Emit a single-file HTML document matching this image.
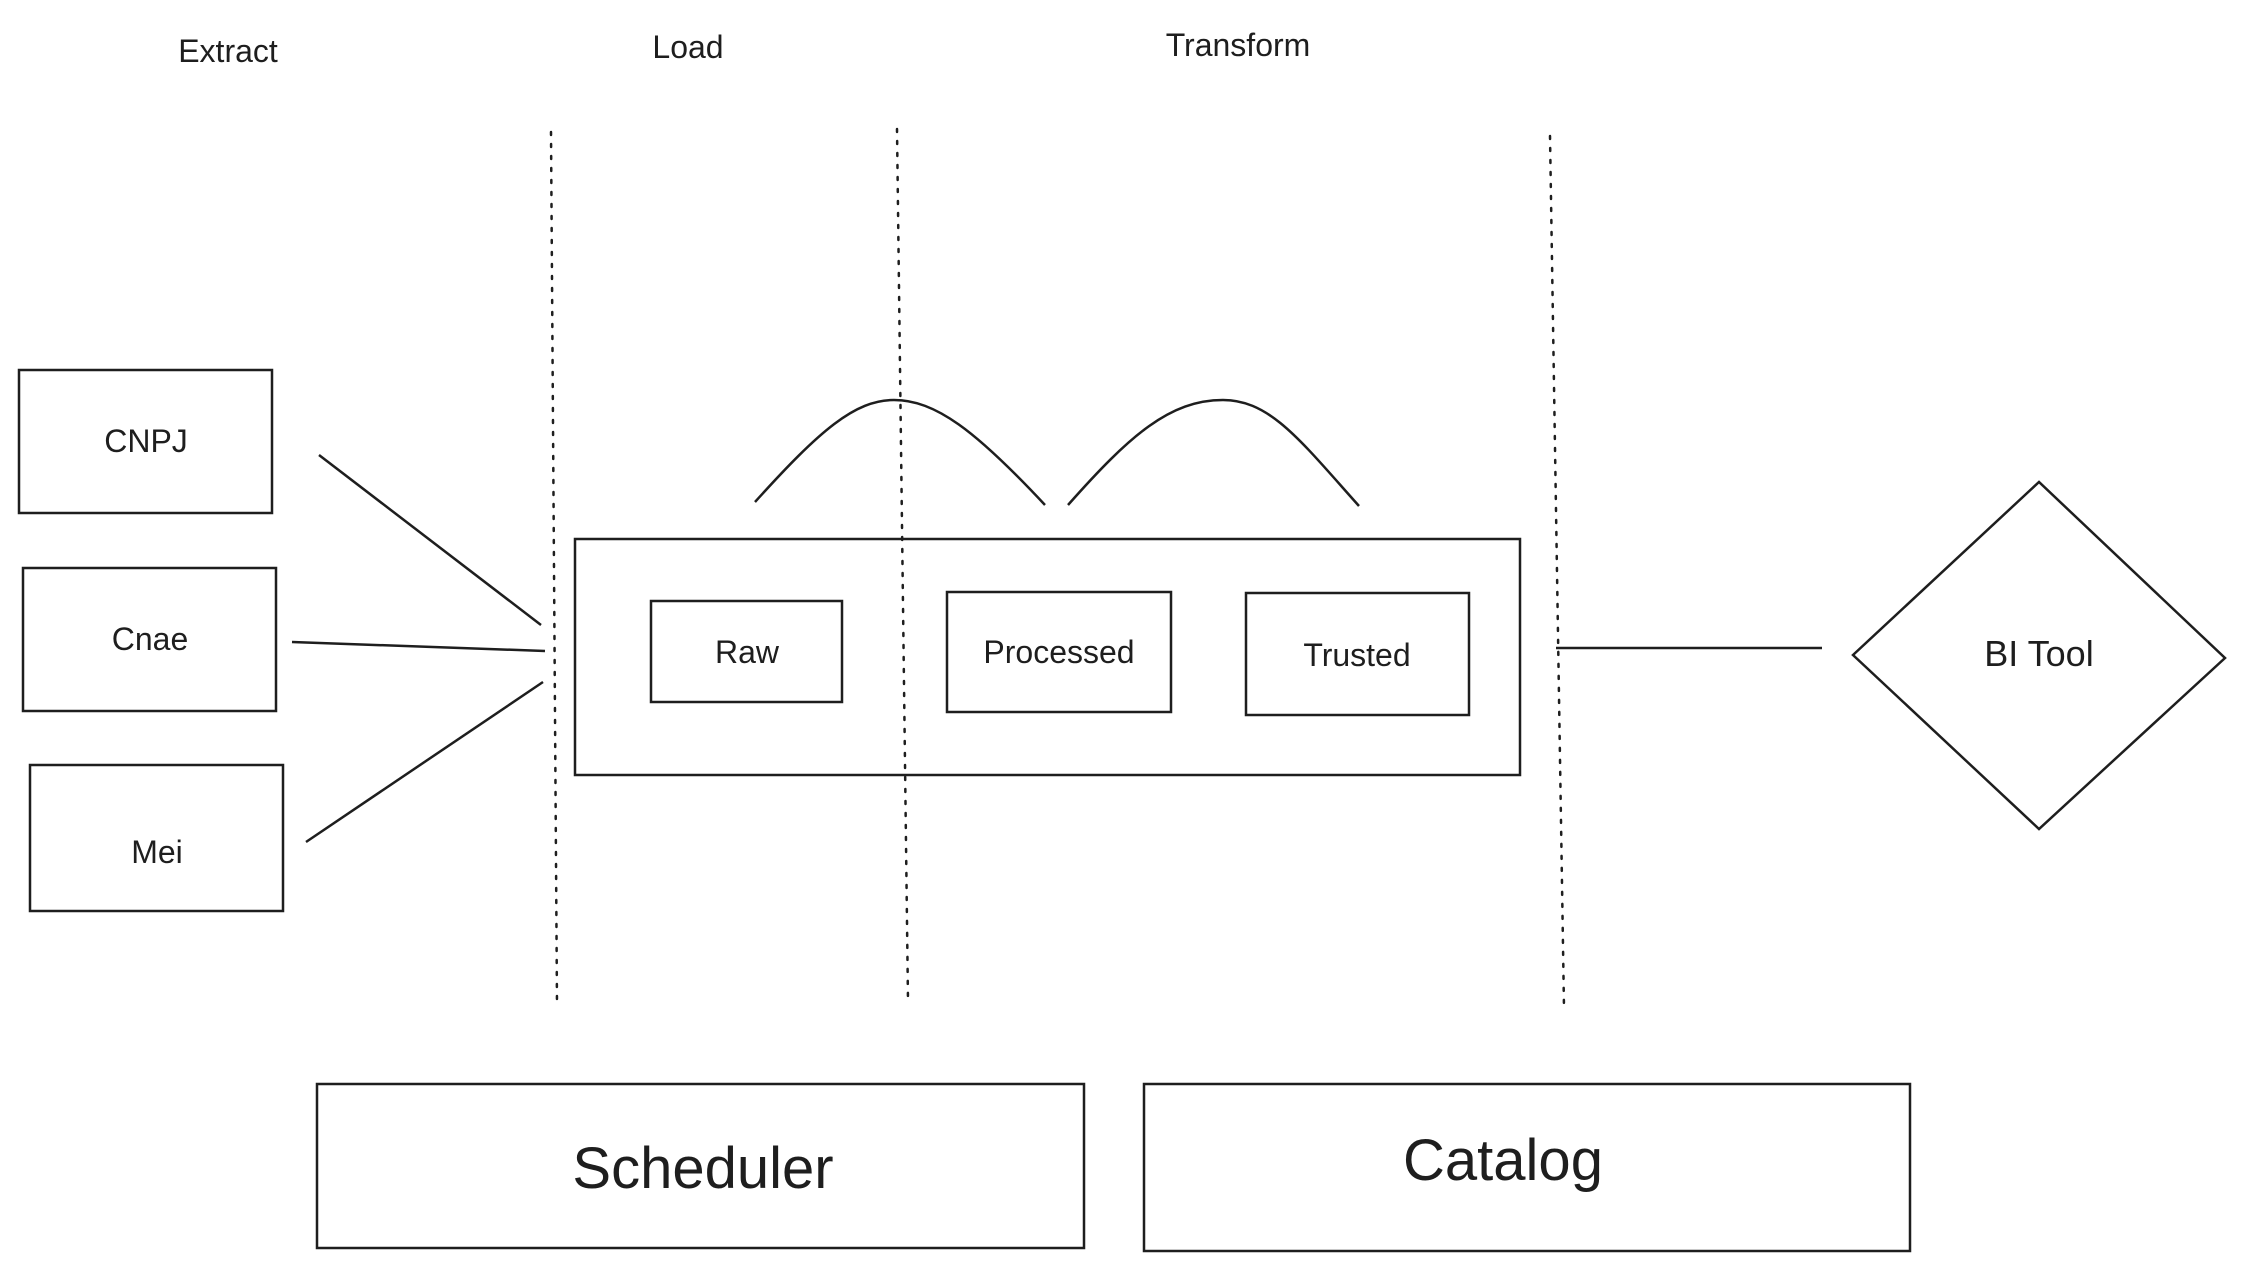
<!DOCTYPE html>
<html><head><meta charset="utf-8"><style>
html,body{margin:0;padding:0;background:#fff;}
svg{display:block;}
text{font-family:"Liberation Sans",sans-serif;fill:#1e1e1e;}
</style></head><body>
<svg width="2242" height="1270" viewBox="0 0 2242 1270" xmlns="http://www.w3.org/2000/svg">
<g fill="none" stroke="#1e1e1e" stroke-width="2.5">
<!-- dotted separators -->
<line x1="551" y1="132" x2="557" y2="1005" stroke-dasharray="3 9" stroke-linecap="round"/>
<line x1="897" y1="129" x2="908" y2="1001" stroke-dasharray="3 9" stroke-linecap="round"/>
<line x1="1550" y1="136" x2="1564" y2="1008" stroke-dasharray="3 9" stroke-linecap="round"/>
<!-- source boxes -->
<rect x="19" y="370" width="253" height="143"/>
<rect x="23" y="568" width="253" height="143"/>
<rect x="30" y="765" width="253" height="146"/>
<!-- connectors -->
<line x1="319" y1="455" x2="541" y2="625"/>
<line x1="292" y1="642" x2="545" y2="651"/>
<line x1="306" y1="842" x2="543" y2="682"/>
<!-- big box -->
<rect x="575" y="539" width="945" height="236"/>
<rect x="651" y="601" width="191" height="101"/>
<rect x="947" y="592" width="224" height="120"/>
<rect x="1246" y="593" width="223" height="122"/>
<!-- arcs -->
<path d="M755 502 C820 430 855 400 894 400 C935 400 975 430 1045 505"/>
<path d="M1068 505 C1130 435 1170 400 1223 400 C1270 400 1300 440 1359 506"/>
<!-- output line -->
<line x1="1556" y1="648" x2="1822" y2="648"/>
<!-- diamond -->
<polygon points="1853,655 2039,482 2225,658 2039,829"/>
<!-- bottom boxes -->
<rect x="317" y="1084" width="767" height="164"/>
<rect x="1144" y="1084" width="766" height="167"/>
</g>
<g font-size="32" text-anchor="middle">
<text x="228" y="62">Extract</text>
<text x="688" y="58">Load</text>
<text x="1238" y="56">Transform</text>
<text x="146" y="452">CNPJ</text>
<text x="150" y="650">Cnae</text>
<text x="157" y="863">Mei</text>
<text x="747" y="663">Raw</text>
<text x="1059" y="663">Processed</text>
<text x="1357" y="666">Trusted</text>
<text x="2039" y="666" font-size="36">BI Tool</text>
</g>
<g font-size="58" text-anchor="middle">
<text x="703" y="1188">Scheduler</text>
<text x="1503" y="1180">Catalog</text>
</g>
</svg>
</body></html>
